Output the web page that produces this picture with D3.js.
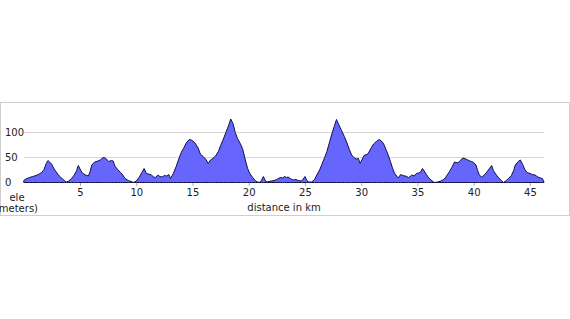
<!DOCTYPE html>
<html><head><meta charset="utf-8">
<script src="https://cdn.jsdelivr.net/npm/d3@7"></script>
<style>
html,body{margin:0;padding:0;background:#fff;}
svg{display:block;font-family:"DejaVu Sans",sans-serif;}
</style></head>
<body>
<svg id="c" width="570" height="319"></svg>
<script>
const distance = [0,0.2,0.5,0.8,1.1,1.3,1.6,1.8,2.0,2.15,2.3,2.5,2.7,2.95,3.2,3.4,3.6,3.8,4.0,4.25,4.5,4.7,4.85,5.0,5.2,5.5,5.75,5.9,6.05,6.3,6.6,6.8,7.0,7.15,7.35,7.55,7.8,7.95,8.1,8.35,8.6,8.8,9.0,9.3,9.55,9.75,10.0,10.25,10.5,10.7,10.9,11.1,11.35,11.55,11.7,11.95,12.1,12.3,12.5,12.7,12.9,13.05,13.3,13.55,13.75,14.0,14.2,14.45,14.7,14.9,15.2,15.5,15.7,15.95,16.2,16.4,16.6,16.8,17.05,17.3,17.5,17.75,18.0,18.2,18.4,18.6,18.8,19.0,19.25,19.45,19.7,19.9,20.1,20.35,20.6,20.8,21.0,21.15,21.3,21.45,21.6,21.8,22.0,22.25,22.5,22.7,22.85,23.0,23.2,23.35,23.5,23.7,23.95,24.2,24.4,24.7,24.85,25.0,25.15,25.3,25.6,25.85,26.05,26.3,26.5,26.75,26.95,27.2,27.4,27.6,27.8,28.0,28.25,28.5,28.7,28.95,29.15,29.35,29.55,29.75,29.9,30.1,30.25,30.6,30.9,31.1,31.35,31.6,31.8,32.0,32.2,32.4,32.6,32.75,32.95,33.15,33.3,33.5,33.7,33.9,34.05,34.2,34.35,34.5,34.7,34.9,35.1,35.25,35.45,35.6,35.8,36.0,36.2,36.5,36.8,37.1,37.4,37.65,37.85,38.05,38.3,38.6,38.8,39.05,39.3,39.55,39.8,40.0,40.2,40.35,40.5,40.7,40.9,41.1,41.3,41.5,41.6,41.75,41.95,42.15,42.4,42.65,42.9,43.1,43.35,43.55,43.7,43.95,44.15,44.35,44.55,44.75,45.0,45.2,45.45,45.7,45.95,46.1,46.25];
const elevation = [4,7,10,12,14,16,20,26,38,44,41,36,27,19,12,8,4,1,3,8,15,24,34,27,19,15,13,22,35,41,43,45,49,50,47,42,44,43,33,26,20,15,8,4,2,0,3,10,20,28,18,17,15,11,10,15,12,11,14,13,16,8,18,32,45,60,68,79,86,85,80,69,57,52,46,38,45,48,53,62,74,87,102,113,127,118,100,88,78,68,45,28,18,10,3,1,0,5,12,5,1,2,3,4,6,9,10,9,12,10,11,8,5,6,4,3,7,12,5,1,1,6,15,25,36,50,62,82,98,112,126,116,104,92,81,66,55,50,47,48,38,47,54,57,70,77,82,86,83,77,66,55,42,31,19,13,9,16,14,13,12,10,12,15,13,18,19,20,28,23,16,9,5,0,1,3,7,15,22,30,41,39,44,49,47,44,42,40,35,24,15,11,14,19,25,31,34,24,17,11,5,0,4,8,14,24,35,42,45,36,26,20,18,16,15,11,9,8,1];
const xTicks = [5,10,15,20,25,30,35,40,45];
const yTicks = [0,50,100];
const xTitle = "distance in km";
const yTitle1 = "ele";
const yTitle2 = "(in meters)";

const data = distance.map((d,i)=>({d, e: elevation[i]}));
const svg = d3.select("#c");

svg.append("rect").attr("x",0.5).attr("y",102.5).attr("width",569).attr("height",113)
  .attr("fill","#fff").attr("stroke","#cfcfcf");

const x = d3.scaleLinear().domain([0,46.25]).range([23.75,544]);
const y = d3.scaleLinear().domain([0,100]).range([182.5,132.5]);

// grid
svg.append("g").selectAll("line").data(yTicks.filter(v=>v>0)).join("line")
  .attr("x1",24).attr("x2",544).attr("y1",d=>y(d)).attr("y2",d=>y(d))
  .attr("stroke","#d6d6d6").attr("stroke-width",1);

// area
const area = d3.area().x(d=>x(d.d)).y0(y(0)).y1(d=>y(d.e));
svg.append("path").datum(data).attr("d",area)
  .attr("fill","#6666ff").attr("stroke","#10104a").attr("stroke-width",1)
  .attr("stroke-linejoin","round");

// x axis
const xa = svg.append("g").attr("transform",`translate(0,${y(0)+0.5})`)
  .call(d3.axisBottom(x).tickValues(xTicks).tickSize(3).tickPadding(3).tickFormat(d3.format("d")));
xa.select(".domain").remove();
xa.selectAll("line").attr("stroke","#aaa");
xa.selectAll("text").attr("font-size",10).attr("fill","#222").attr("font-family","DejaVu Sans");

// y labels
svg.append("g").selectAll("text").data(yTicks).join("text")
  .attr("x",5).attr("y",d=>y(d)+3.5).attr("font-size",10).attr("fill","#222")
  .text(d=>d);

svg.append("text").attr("x",284).attr("y",211).attr("text-anchor","middle")
  .attr("font-size",10).attr("fill","#222").text(xTitle);
svg.append("text").attr("x",17).attr("y",201).attr("text-anchor","middle")
  .attr("font-size",10).attr("fill","#222").text(yTitle1);
svg.append("text").attr("x",38).attr("y",212).attr("text-anchor","end")
  .attr("font-size",10).attr("fill","#222").text(yTitle2);
</script>
</body></html>
